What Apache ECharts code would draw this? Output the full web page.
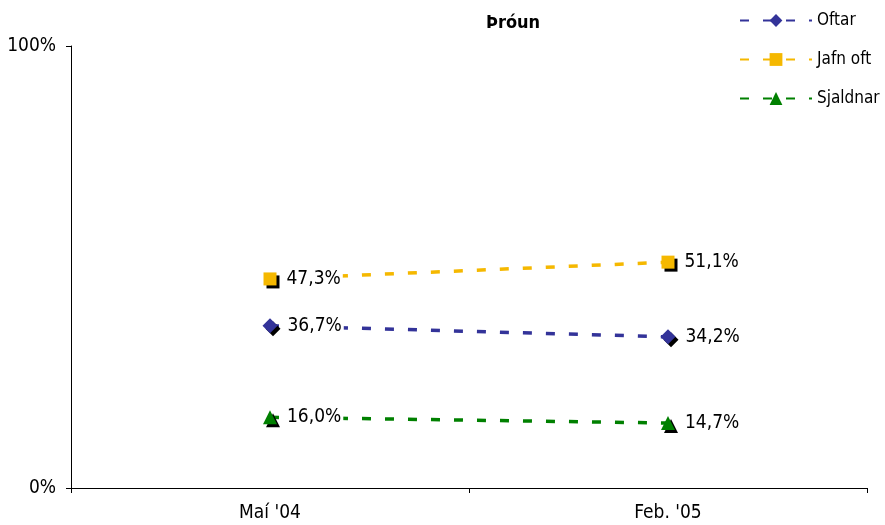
<!DOCTYPE html>
<html>
<head>
<meta charset="utf-8">
<script src="https://cdn.jsdelivr.net/npm/echarts@6/dist/echarts.min.js"></script>
<style>
  html, body { margin: 0; padding: 0; background: #fff; }
  #chart { width: 885px; height: 525px; }
</style>
</head>
<body>
<div id="chart"></div>
<script>
var categories = ["Maí '04", "Feb. '05"];
var oftar = [36.7, 34.2];
var jafnOft = [47.3, 51.1];
var sjaldnar = [16.0, 14.7];

var FONT = "'DejaVu Sans Condensed', 'Arial Narrow', sans-serif";

var chart = echarts.init(document.getElementById("chart"));

function makeSeries(name, data, color, symbol, size) {
  return {
    name: name,
    type: "line",
    data: data,
    symbol: symbol,
    symbolSize: size,
    lineStyle: { color: color, width: 3.5, type: [9, 14] },
    itemStyle: {
      color: color,
      shadowColor: "#000",
      shadowOffsetX: 3,
      shadowOffsetY: 3,
      shadowBlur: 0
    },
    label: {
      show: true,
      position: "right",
      distance: 8,
      formatter: function (p) {
        return p.value.toFixed(1).replace(".", ",") + "%";
      },
      color: "#000",
      fontFamily: FONT,
      fontSize: 19,
      backgroundColor: "#fff",
      padding: [2, 2, 2, 2]
    },
    emphasis: { disabled: true },
    z: 2
  };
}

var option = {
  animation: false,
  title: {
    text: "Þróun",
    left: 481,
    top: 9,
    textStyle: { fontFamily: FONT, fontSize: 18, fontWeight: "bold", color: "#000" }
  },
  legend: {
    orient: "vertical",
    left: 734,
    top: 7,
    itemWidth: 72,
    itemHeight: 16,
    itemGap: 22,
    textStyle: { fontFamily: FONT, fontSize: 17, color: "#000" },
    data: ["Oftar", "Jafn oft", "Sjaldnar"]
  },
  grid: { left: 71, right: 18, top: 46, bottom: 37 },
  xAxis: {
    type: "category",
    data: categories,
    boundaryGap: true,
    axisLine: { lineStyle: { color: "#000", width: 1 } },
    axisTick: { show: true, length: 5, lineStyle: { color: "#000" } },
    axisLabel: { color: "#000", fontFamily: FONT, fontSize: 19, margin: 16 }
  },
  yAxis: {
    type: "value",
    min: 0,
    max: 100,
    interval: 100,
    axisLine: { show: true, lineStyle: { color: "#000", width: 1 } },
    axisTick: { show: true, length: 5, lineStyle: { color: "#000" } },
    axisLabel: {
      color: "#000",
      fontFamily: FONT,
      fontSize: 19,
      margin: 15,
      formatter: "{value}%"
    },
    splitLine: { show: false }
  },
  series: [
    makeSeries("Oftar", oftar, "#333399", "diamond", 15),
    makeSeries("Jafn oft", jafnOft, "#F5B800", "rect", 13),
    makeSeries("Sjaldnar", sjaldnar, "#008000", "triangle", 14)
  ]
};

chart.setOption(option);
</script>
</body>
</html>
